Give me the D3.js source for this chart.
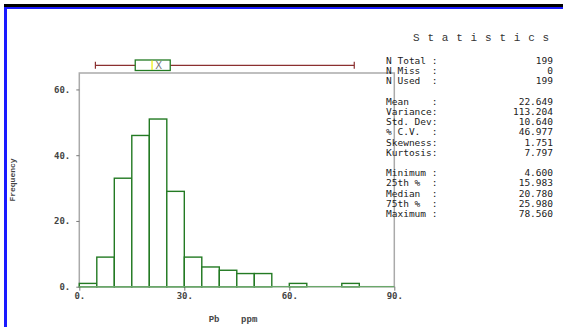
<!DOCTYPE html>
<html><head><meta charset="utf-8">
<script src="https://cdn.jsdelivr.net/npm/d3@7"></script>
<style>
html,body{margin:0;padding:0;background:#fff;}
svg{display:block;}
</style></head>
<body>
<svg id="c" width="563" height="327"></svg>
<script>
// ---- data ----
const binStarts = [0,5,10,15,20,25,30,35,40,45,50,55,60,65,70,75];
const binWidth = 5;
const counts = [1,9,33,46,51,29,9,6,5,4,4,0,1,0,0,1];
const xTicks = [0,30,60,90];
const yTicks = [0,20,40,60];
const boxMin = 4.6, boxQ1 = 15.983, boxMedian = 20.78, boxQ3 = 25.98, boxMax = 78.56, boxMean = 22.649;
const statLabels = ["N Total :","N Miss  :","N Used  :",null,"Mean    :","Variance:","Std. Dev:","% C.V.  :","Skewness:","Kurtosis:",null,"Minimum :","25th %  :","Median  :","75th %  :","Maximum :"];
const statValues = ["199","0","199",null,"22.649","113.204","10.640","46.977","1.751","7.797",null,"4.600","15.983","20.780","25.980","78.560"];

const svg = d3.select("#c");

// border
svg.append("rect").attr("x",4).attr("y",4).attr("width",559).attr("height",3).attr("fill","#000");
svg.append("rect").attr("x",4).attr("y",7).attr("width",559).attr("height",2).attr("fill","#1a1aff");
svg.append("rect").attr("x",4).attr("y",7).attr("width",3).attr("height",320).attr("fill","#1a1aff");

const x = d3.scaleLinear().domain([0,90]).range([79.3,394.3]);
const y = d3.scaleLinear().domain([0,65]).range([286.7,73]);

// frame
const g = svg.append("g");
g.append("rect").attr("x",x(0)).attr("y",y(65)).attr("width",x(90)-x(0)).attr("height",y(0)-y(65))
  .attr("fill","none").attr("stroke","#aaa").attr("stroke-width",1.5);

// axes
const ax = g.append("g").attr("transform",`translate(0,${y(0)})`)
  .call(d3.axisBottom(x).tickValues(xTicks).tickFormat(d=>d+".").tickSize(4).tickPadding(2));
const ay = g.append("g").attr("transform",`translate(${x(0)},0)`)
  .call(d3.axisLeft(y).tickValues(yTicks).tickFormat(d=>d+".").tickSize(3).tickPadding(6));
[ax,ay].forEach(a=>{
  a.select(".domain").remove();
  a.selectAll(".tick line").attr("stroke","#777");
  a.selectAll(".tick text").attr("font-family","DejaVu Sans Mono").attr("font-weight","bold")
    .attr("font-size","9px").attr("fill","#444");
});

// bars
g.selectAll("rect.bar").data(binStarts.map((s,i)=>({s,c:counts[i]})).filter(d=>d.c>0)).enter()
  .append("rect").attr("class","bar")
  .attr("x",d=>x(d.s)).attr("width",d=>x(d.s+binWidth)-x(d.s))
  .attr("y",d=>y(d.c)).attr("height",d=>y(0)-y(d.c))
  .attr("fill","#fff").attr("stroke","#237a23").attr("stroke-width",1.4);
g.append("line").attr("x1",x(0)).attr("x2",x(90)).attr("y1",y(0)).attr("y2",y(0))
  .attr("stroke","#6aa86a").attr("stroke-width",1.2);

// boxplot
const by = 65.3;
g.append("line").attr("x1",x(boxMin)).attr("x2",x(boxMax)).attr("y1",by).attr("y2",by).attr("stroke","#8b3030").attr("stroke-width",1.2);
[boxMin,boxMax].forEach(v=>g.append("line").attr("x1",x(v)).attr("x2",x(v)).attr("y1",by-3.5).attr("y2",by+3.5).attr("stroke","#8b3030").attr("stroke-width",1.2));
g.append("rect").attr("x",x(boxQ1)).attr("y",60).attr("width",x(boxQ3)-x(boxQ1)).attr("height",10.5)
  .attr("fill","#fff").attr("stroke","#237a23").attr("stroke-width",1.3);
g.append("line").attr("x1",x(boxMedian)).attr("x2",x(boxMedian)).attr("y1",60.5).attr("y2",70).attr("stroke","#f0f000").attr("stroke-width",1.2);
g.append("text").attr("x",x(boxMean)).attr("y",69).attr("text-anchor","middle")
  .attr("font-family","DejaVu Sans").attr("font-size","10px").attr("fill","#777").text("X");

// axis titles
svg.append("text").attr("transform","translate(15,180) rotate(-90)").attr("text-anchor","middle")
  .attr("font-family","Liberation Mono").attr("font-size","8px").attr("font-weight","bold").attr("fill","#444").text("Frequency");
svg.append("text").attr("x",233).attr("y",322).attr("text-anchor","middle").attr("xml:space","preserve")
  .attr("font-family","Liberation Mono").attr("font-size","9px").attr("font-weight","bold").attr("fill","#444").text("Pb    ppm");

// statistics panel
svg.append("text").attr("x",413).attr("y",41).attr("font-family","Liberation Mono").attr("font-size","11px")
  .attr("letter-spacing","7.8px").attr("fill","#333").text("Statistics");
const st = svg.append("g").attr("font-family","DejaVu Sans Mono").attr("font-size","9.5px").attr("fill","#222");
statLabels.forEach((l,i)=>{
  if(l===null) return;
  const yy = 64 + i*10.2;
  st.append("text").attr("x",386).attr("y",yy).attr("xml:space","preserve").text(l);
  st.append("text").attr("x",553).attr("y",yy).attr("text-anchor","end").text(statValues[i]);
});
</script>
</body></html>
